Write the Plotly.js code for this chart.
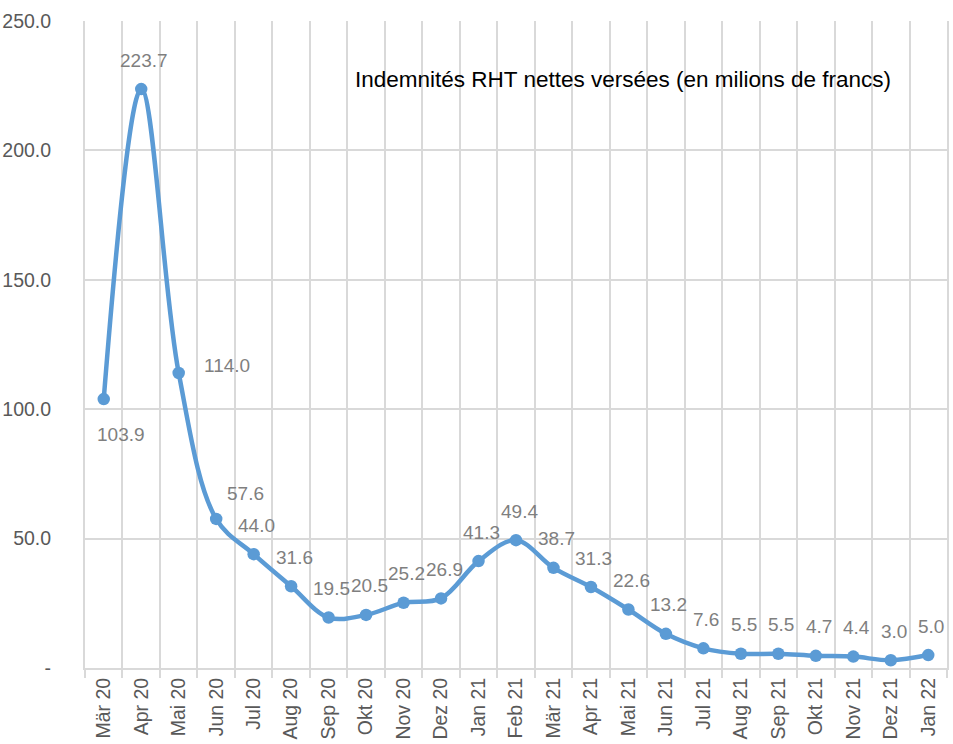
<!DOCTYPE html>
<html>
<head>
<meta charset="utf-8">
<script src="https://cdn.plot.ly/plotly-3.0.1.min.js"></script>
<style>html,body{margin:0;padding:0;background:#fff;}#chart{width:953px;height:744px;}</style>
</head>
<body>
<div id="chart"></div>
<script>
const months = ["Mär 20","Apr 20","Mai 20","Jun 20","Jul 20","Aug 20","Sep 20","Okt 20","Nov 20","Dez 20","Jan 21","Feb 21","Mär 21","Apr 21","Mai 21","Jun 21","Jul 21","Aug 21","Sep 21","Okt 21","Nov 21","Dez 21","Jan 22"];
const indemnites = [103.9,223.7,114.0,57.6,44.0,31.6,19.5,20.5,25.2,26.9,41.3,49.4,38.7,31.3,22.6,13.2,7.6,5.5,5.5,4.7,4.4,3.0,5.0];
const yTickVals = [0,50,100,150,200,250];
const yTickText = ["-","50.0","100.0","150.0","200.0","250.0"];
const chartTitle = "Indemnités RHT nettes versées (en milions de francs)";

const regular = "Liberation Sans, Arial, sans-serif";

const trace = {
  x: months,
  y: indemnites,
  type: "scatter",
  mode: "lines+markers",
  line: {color:"#5B9BD5", width:4.5, shape:"spline", smoothing:1},
  marker: {color:"#5B9BD5", size:12.5},
  cliponaxis: false,
  hoverinfo: "skip"
};

// label offset (pixels) relative to its point, with a few special placements
function labelShift(i){
  if (i===0) return {x:17, y:-35};
  if (i===2) return {x:48, y:7};
  if (i===3) return {x:29, y:25};
  return {x:3, y:29};
}

const labelAnnotations = indemnites.map((v,i)=>{
  const s = labelShift(i);
  return {
    x: months[i], y: v, xref:"x", yref:"y",
    text: v.toFixed(1), showarrow:false,
    xanchor:"center", yanchor:"middle",
    xshift:s.x, yshift:s.y, borderpad:0,
    font:{family:regular, size:19, color:"#7f7f7f"}
  };
});

const layout = {
  width: 953, height: 744,
  margin: {l:85, r:6, t:21, b:76},
  paper_bgcolor:"#fff", plot_bgcolor:"#fff",
  showlegend:false,
  font:{family:regular, color:"#595959", size:19.5},
  xaxis:{
    type:"category",
    range:[-0.5,22.5],
    tickson:"boundaries",
    showgrid:true, gridcolor:"#d9d9d9", gridwidth:2,
    ticks:"outside", ticklen:8, tickcolor:"#d9d9d9", tickwidth:2,
    tickangle:-90,
    showline:true, linecolor:"#d9d9d9", linewidth:2,
    tickfont:{size:19.5, color:"#595959"},
    zeroline:false, fixedrange:true
  },
  yaxis:{
    range:[0,250],
    tickvals:yTickVals, ticktext:yTickText,
    showgrid:true, gridcolor:"#d9d9d9", gridwidth:2,
    showline:true, mirror:true, linecolor:"#d9d9d9", linewidth:2,
    ticks:"", ticklabelstandoff:28,
    tickfont:{size:19.5, color:"#595959"},
    zeroline:false, fixedrange:true
  },
  annotations: labelAnnotations.concat([{
    text: chartTitle, xref:"paper", yref:"paper", x:(623-85)/862, y:(668-79)/647,
    xanchor:"center", yanchor:"middle", showarrow:false,
    font:{family:regular, size:22.5, color:"#000"}
  }])
};

Plotly.newPlot("chart",[trace],layout,{staticPlot:true});
</script>
</body>
</html>
